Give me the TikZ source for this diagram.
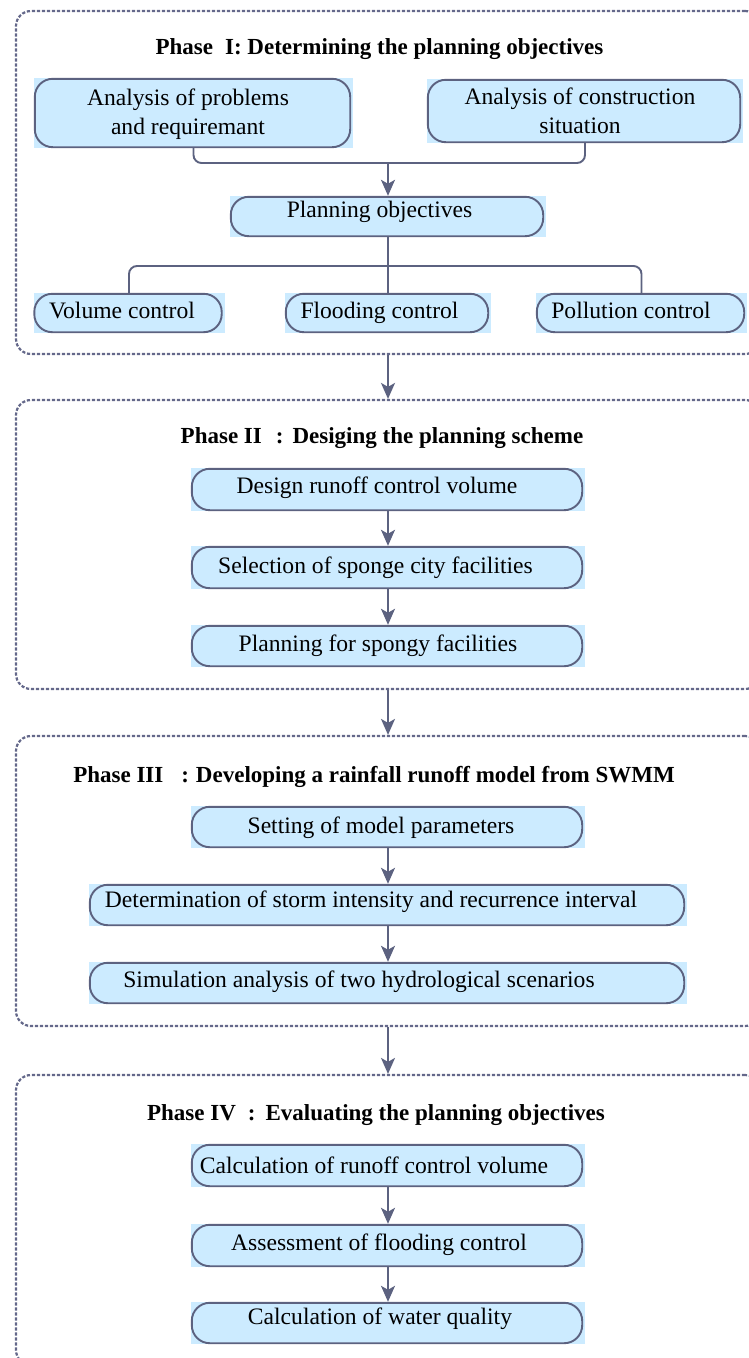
\documentclass[tikz,border=0pt]{standalone}
\usepackage{fontspec}
\setmainfont{Liberation Serif}
\usetikzlibrary{arrows.meta}
\definecolor{boxfill}{RGB}{204,235,255}
\definecolor{edgecol}{RGB}{92,98,128}
\definecolor{framecol}{RGB}{100,104,138}
\tikzset{
  phaseframe/.style={draw=framecol, line width=2.2pt, dash pattern=on 3.2pt off 1.8pt,
    rounded corners=15pt, inner sep=0pt},
  boxfillst/.style={fill=boxfill, inner sep=0pt},
  boxedge/.style={draw=edgecol, line width=1.9pt, rounded corners=18pt},
  conn/.style={draw=edgecol, line width=1.9pt, rounded corners=8pt},
  arr/.style={draw=edgecol, line width=1.9pt, -{Stealth[length=16pt,width=14pt,inset=4pt]}},
  lbl/.style={font=\fontsize{23.6}{29}\selectfont, align=center, inner sep=0pt, anchor=base},
  ttl/.style={font=\fontsize{23}{29}\selectfont\bfseries, inner sep=0pt, anchor=base},
}
% name, cx, cy, w, h
\newcommand\flowbox[5]{%
  \node[boxfillst, minimum width=#4pt, minimum height=#5pt] (#1) at (#2,#3) {};
  \draw[boxedge] ([xshift=1pt,yshift=-1pt]#1.north west) rectangle ([xshift=-3pt,yshift=1pt]#1.south east);
}
\begin{document}
\begin{tikzpicture}[x=1pt,y=-1pt]
\useasboundingbox (0,0) rectangle (749,1358);
\clip (0,0) rectangle (749,1358);

% frames
\node[phaseframe, minimum width=744pt, minimum height=343pt] (f1) at (388,182.5) {};
\node[phaseframe, minimum width=744pt, minimum height=289pt] (f2) at (388,544.5) {};
\node[phaseframe, minimum width=744pt, minimum height=290pt] (f3) at (388,881) {};
\node[phaseframe, minimum width=744pt, minimum height=290pt] (f4) at (388,1220) {};

% Phase I
\node[ttl] (t1) at (379.5,54) {Phase\hspace{12pt}I: Determining the planning objectives};
\flowbox{pA}{193.5}{113}{319}{70}
\flowbox{pB}{585}{111}{316}{64}
\flowbox{pObj}{388}{216.5}{316}{41}
\flowbox{pVol}{129}{313}{191}{40}
\flowbox{pFlood}{388}{313}{206}{40}
\flowbox{pPol}{641.5}{313}{211}{40}
\node[lbl, anchor=center] (tA) at (188,113.7) {Analysis of problems\\and requiremant};
\node[lbl, anchor=center] (tB) at (580,110.7) {Analysis of construction\\situation};
\node[lbl] (tObj) at (379.5,217) {Planning objectives};
\node[lbl] (tVol) at (122,318) {Volume control};
\node[lbl] (tFlood) at (379.5,318) {Flooding control};
\node[lbl] (tPol) at (631,318) {Pollution control};

\coordinate (j1) at (388,163);
\coordinate (j2) at (388,266);
\draw[conn] (pA.south) -- (pA.south |- j1) -- (pB.south |- j1) -- (pB.south);
\draw[arr] (j1) -- (pObj.north);
\draw[conn] (pObj.south) -- (pFlood.north);
\draw[conn] (pVol.north) -- (pVol.north |- j2) -- (pPol.north |- j2) -- (pPol.north);

% Phase II
\node[ttl] (t2) at (382,443) {Phase II\hspace{14pt}:\hspace{9pt}Desiging the planning scheme};
\flowbox{d1}{388}{489.5}{394}{43}
\flowbox{d2}{388}{567.5}{394}{43}
\flowbox{d3}{388}{646}{394}{42}
\node[lbl] (td1) at (377,493) {Design runoff control volume};
\node[lbl] (td2) at (375.5,573) {Selection of sponge city facilities};
\node[lbl] (td3) at (378,651) {Planning for spongy facilities};
\draw[arr] (d1.south) -- (d2.north);
\draw[arr] (d2.south) -- (d3.north);

% Phase III
\node[ttl] (t3) at (374,782) {Phase III\hspace{18pt}:\hspace{7pt}Developing a rainfall runoff model from SWMM};
\flowbox{s1}{388}{827}{394}{42}
\flowbox{s2}{388}{905}{598}{42}
\flowbox{s3}{388}{983}{598}{42}
\node[lbl] (ts1) at (381,833) {Setting of model parameters};
\node[lbl] (ts2) at (371,907) {Determination of storm intensity and recurrence interval};
\node[lbl] (ts3) at (359,987) {Simulation analysis of two hydrological scenarios};
\draw[arr] (s1.south) -- (s2.north);
\draw[arr] (s2.south) -- (s3.north);

% Phase IV
\node[ttl] (t4) at (376,1120) {Phase IV\hspace{12pt}:\hspace{10pt}Evaluating the planning objectives};
\flowbox{e1}{388}{1165.5}{394}{43}
\flowbox{e2}{388}{1245.5}{394}{43}
\flowbox{e3}{388}{1323}{394}{42}
\node[lbl] (te1) at (374,1173) {Calculation of runoff control volume};
\node[lbl] (te2) at (379,1250) {Assessment of flooding control};
\node[lbl] (te3) at (380,1324) {Calculation of water quality};
\draw[arr] (e1.south) -- (e2.north);
\draw[arr] (e2.south) -- (e3.north);

% between phases
\draw[arr] (f1.south) -- (f2.north);
\draw[arr] (f2.south) -- (f3.north);
\draw[arr] (f3.south) -- (f4.north);
\end{tikzpicture}
\end{document}
